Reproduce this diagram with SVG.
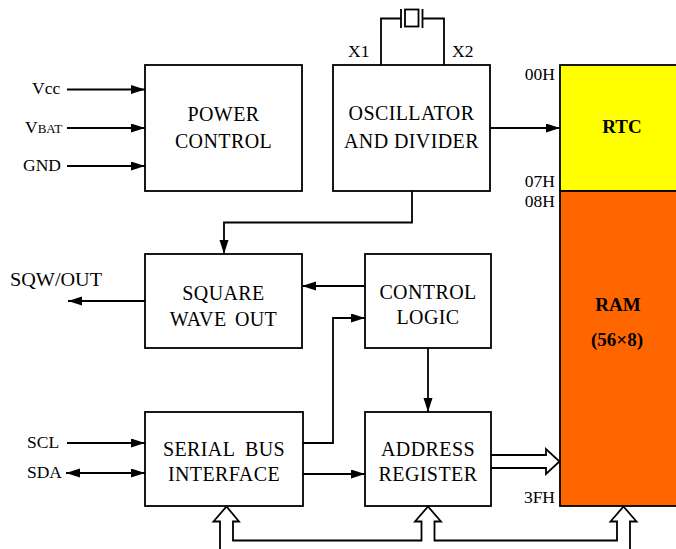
<svg xmlns="http://www.w3.org/2000/svg" width="676" height="549" viewBox="0 0 676 549">
<defs>
<marker id="ah" markerWidth="15" markerHeight="10" refX="14" refY="4.5" orient="auto-start-reverse" markerUnits="userSpaceOnUse">
<path d="M0,0 L14,4.5 L0,9 Z" fill="#000"/>
</marker>
<style>
.box{fill:#fff;stroke:#000;stroke-width:1.8}
text{font-family:"Times New Roman",Times,Tinos,"Liberation Serif","Noto Serif","FreeSerif","DejaVu Serif",serif}
.t{font-size:20px;fill:#000;text-anchor:middle;letter-spacing:0.4px}
.l{font-size:17.5px;fill:#000}
.b{font-size:19px;font-weight:bold;fill:#000;text-anchor:middle}
.w{fill:none;stroke:#000;stroke-width:1.8}
.a{fill:none;stroke:#000;stroke-width:1.8;marker-end:url(#ah)}
.h{fill:none;stroke:#000;stroke-width:1.8;stroke-linejoin:miter}
</style>
</defs>

<g id="memory">
<rect x="560" y="65" width="130" height="126" fill="#ffff00" stroke="#000" stroke-width="1.8"/>
<rect x="560" y="191" width="130" height="315" fill="#ff6600" stroke="#000" stroke-width="1.8"/>
<text class="b" x="622" y="133">RTC</text>
<text class="b" x="618" y="311">RAM</text>
<text class="b" x="617" y="346">(56×8)</text>
<text class="l" x="555" y="80" text-anchor="end">00H</text>
<text class="l" x="555" y="187" text-anchor="end">07H</text>
<text class="l" x="555" y="207" text-anchor="end">08H</text>
<text class="l" x="555" y="503" text-anchor="end">3FH</text>
</g>

<g id="power">
<rect class="box" x="145" y="65" width="157" height="126"/>
<text class="t" x="223.5" y="121">POWER</text>
<text class="t" x="223.5" y="148">CONTROL</text>
</g>

<g id="osc">
<rect class="box" x="333" y="65" width="157" height="126"/>
<text class="t" x="411.5" y="120">OSCILLATOR</text>
<text class="t" x="411.5" y="148">AND DIVIDER</text>
</g>

<g id="crystal">
<path class="w" d="M381,65 V18.5 H401 M401,9 V28 M422.5,9 V28 M422.5,18.5 H444 V65"/>
<rect x="405" y="9.5" width="13.5" height="17" fill="none" stroke="#000" stroke-width="1.8"/>
<text class="l" x="348" y="57">X1</text>
<text class="l" x="452" y="57">X2</text>
</g>

<g id="sqw">
<rect class="box" x="145" y="254" width="157" height="94"/>
<text class="t" x="223.5" y="300">SQUARE</text>
<text class="t" x="223.5" y="326" style="word-spacing:3px">WAVE OUT</text>
</g>

<g id="ctrl">
<rect class="box" x="365" y="254" width="126" height="94"/>
<text class="t" x="428" y="299">CONTROL</text>
<text class="t" x="428" y="324">LOGIC</text>
</g>

<g id="serial">
<rect class="box" x="145" y="412" width="158" height="94"/>
<text class="t" x="224" y="456" style="word-spacing:5px">SERIAL BUS</text>
<text class="t" x="224" y="481">INTERFACE</text>
</g>

<g id="addr">
<rect class="box" x="365" y="412" width="126" height="94"/>
<text class="t" x="428" y="456">ADDRESS</text>
<text class="t" x="428" y="481">REGISTER</text>
</g>

<g id="labels">
<text class="l" x="32" y="94">Vcc</text>
<text class="l" x="25" y="133">V<tspan font-size="13">BAT</tspan></text>
<text class="l" x="23" y="171">GND</text>
<text class="l" x="10" y="286" style="font-size:18.5px" textLength="92" lengthAdjust="spacingAndGlyphs">SQW/OUT</text>
<text class="l" x="27" y="448">SCL</text>
<text class="l" x="27" y="478">SDA</text>
</g>

<g id="connectors">
<path class="a" d="M67,89.5 H145"/>
<path class="a" d="M67,128 H145"/>
<path class="a" d="M67,166 H145"/>
<path class="a" d="M67,443 H145"/>
<path class="a" d="M66,473 H145" style="marker-start:url(#ah)"/>
<path class="a" d="M490,128 H560"/>
<path class="a" d="M412,191 V222.5 H224 V254"/>
<path class="a" d="M365,286 H302"/>
<path class="a" d="M145,301 H68"/>
<path class="a" d="M303,443 H333 V318 H365"/>
<path class="a" d="M303,474 H365"/>
<path class="a" d="M428,348 V412"/>
<path class="h" d="M491,455 H546 V449 L559.5,461.5 L546,474 V468 H491"/>
<path class="h" d="M220,549 V521.5 H213.5 L226.5,506.5 L239,521.5 H233 V540.5 H421.5 V521.5 H415 L428,506.5 L441,521.5 H434.5 V540.5 H617 V521.5 H610.5 L623.5,506.5 L636.5,521.5 H630 V549"/>
</g>
</svg>
